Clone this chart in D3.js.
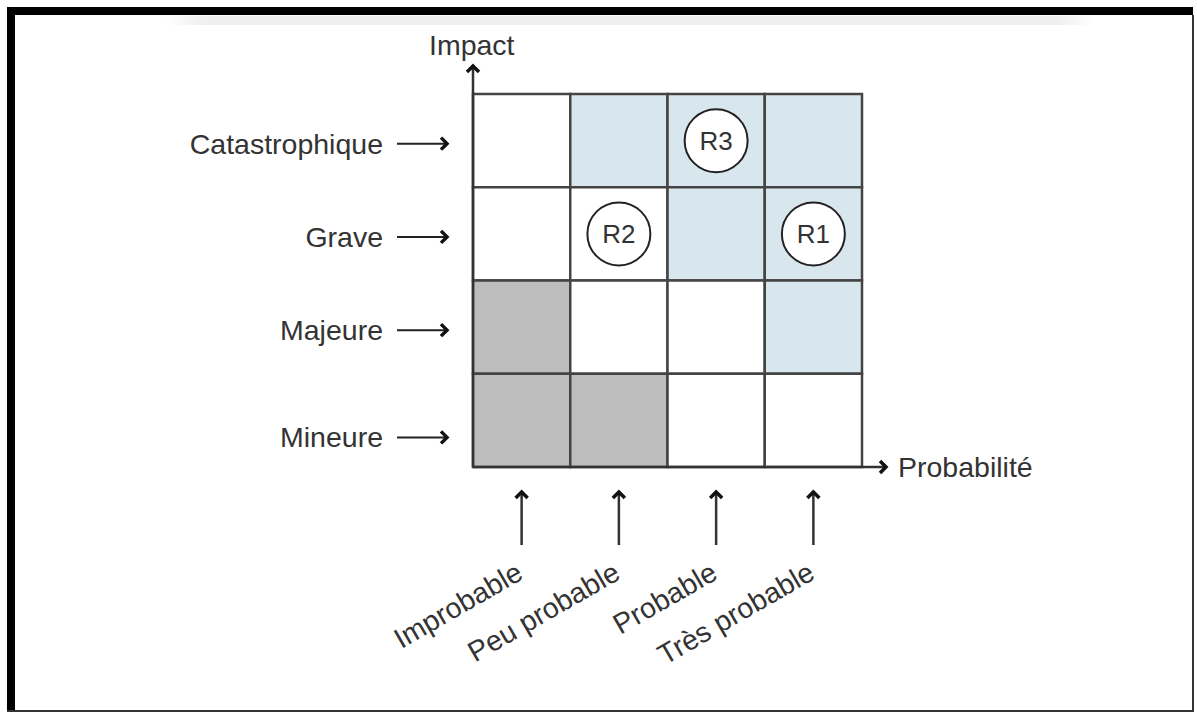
<!DOCTYPE html>
<html>
<head>
<meta charset="utf-8">
<script src="https://cdn.jsdelivr.net/npm/d3@7"></script>
<style>
  html, body { margin: 0; padding: 0; background: #fff; }
  svg text { font-family: "Liberation Sans", Arial, sans-serif; fill: #333; }
</style>
</head>
<body>
<div id="chart"></div>
<script>
// categories
var probabilities = ["Improbable", "Peu probable", "Probable", "Très probable"];
var impacts = ["Catastrophique", "Grave", "Majeure", "Mineure"];

// zone of each cell, row by row (impact), column by column (probabilité)
var zones = [
	["low", "high", "high", "high"],
	["low", "low", "high", "high"],
	["none", "low", "low", "high"],
	["none", "none", "low", "low"]
];

// risks placed on the matrix
var risks = [
	{ name: "R1", probability: "Très probable", impact: "Grave" },
	{ name: "R2", probability: "Peu probable", impact: "Grave" },
	{ name: "R3", probability: "Probable", impact: "Catastrophique" }
];

var zoneColor = { none: "#bdbdbd", low: "#ffffff", high: "#d8e6ee" };

var width = 1197, height = 713;
var grid = { left: 473, top: 94, right: 862, bottom: 467 };
var fontSize = 28.5;

var svg = d3.select("#chart").append("svg")
	.attr("width", width)
	.attr("height", height);

// faint shadow band near the top
var defs = svg.append("defs");
var grad = defs.append("linearGradient").attr("id", "shade").attr("x1", 0).attr("x2", 1);
grad.append("stop").attr("offset", "0").attr("stop-color", "#fff");
grad.append("stop").attr("offset", "0.04").attr("stop-color", "#ececec");
grad.append("stop").attr("offset", "0.96").attr("stop-color", "#ececec");
grad.append("stop").attr("offset", "1").attr("stop-color", "#fff");
svg.append("rect").attr("x", 165).attr("y", 16).attr("width", 930).attr("height", 9)
	.attr("fill", "url(#shade)").attr("opacity", 0.8);

// frame
svg.append("rect").attr("x", 7).attr("y", 7).attr("width", 1186).attr("height", 8).attr("fill", "#000");
svg.append("rect").attr("x", 7).attr("y", 7).attr("width", 8).attr("height", 705).attr("fill", "#000");
svg.append("rect").attr("x", 1192).attr("y", 15).attr("width", 2).attr("height", 697).attr("fill", "#333");
svg.append("rect").attr("x", 7).attr("y", 710).attr("width", 1187).attr("height", 2).attr("fill", "#333");

var x = d3.scaleBand().domain(probabilities).range([grid.left, grid.right]);
var y = d3.scaleBand().domain(impacts).range([grid.top, grid.bottom]);

var cells = [];
impacts.forEach(function(imp, i) {
	probabilities.forEach(function(p, j) {
		cells.push({ impact: imp, probability: p, zone: zones[i][j] });
	});
});

svg.append("g").selectAll("rect")
	.data(cells)
	.enter().append("rect")
	.attr("x", function(d) { return x(d.probability); })
	.attr("y", function(d) { return y(d.impact); })
	.attr("width", x.bandwidth())
	.attr("height", y.bandwidth())
	.attr("fill", function(d) { return zoneColor[d.zone]; })
	.attr("stroke", "#444")
	.attr("stroke-width", 2.5);

function chevron(g, px, py, dir) {
	// small arrow head pointing in dir ("up" or "right")
	var s = 6;
	var d = dir === "up"
		? "M" + (px - s) + "," + (py + s) + "L" + px + "," + py + "L" + (px + s) + "," + (py + s)
		: "M" + (px - s) + "," + (py - s) + "L" + px + "," + py + "L" + (px - s) + "," + (py + s);
	g.append("path").attr("d", d).attr("fill", "none").attr("stroke", "#111")
		.attr("stroke-width", 3.5).attr("stroke-linejoin", "miter");
}

var axes = svg.append("g");
axes.append("line").attr("x1", grid.left).attr("x2", grid.left).attr("y1", grid.bottom).attr("y2", 66)
	.attr("stroke", "#333").attr("stroke-width", 2.5);
chevron(axes, grid.left, 66, "up");
axes.append("line").attr("x1", grid.left).attr("x2", 886).attr("y1", grid.bottom).attr("y2", grid.bottom)
	.attr("stroke", "#333").attr("stroke-width", 2.5);
chevron(axes, 886, grid.bottom, "right");

svg.append("text").attr("x", 429).attr("y", 55).attr("font-size", fontSize).text("Impact");
svg.append("text").attr("x", 898).attr("y", 477).attr("font-size", fontSize).text("Probabilité");

// impact labels with arrows
var left = svg.append("g");
impacts.forEach(function(imp, i) {
	var cy = y(imp) + y.bandwidth() / 2 + (i === impacts.length - 1 ? 17 : 3);
	left.append("text").attr("x", 383).attr("y", cy + 10).attr("text-anchor", "end")
		.attr("font-size", fontSize).text(imp);
	left.append("line").attr("x1", 397).attr("x2", 446).attr("y1", cy).attr("y2", cy)
		.attr("stroke", "#222").attr("stroke-width", 2);
	chevron(left, 447, cy, "right");
});

// probability labels with arrows
var bottom = svg.append("g");
probabilities.forEach(function(p) {
	var cx = x(p) + x.bandwidth() / 2;
	bottom.append("line").attr("x1", cx).attr("x2", cx).attr("y1", 545).attr("y2", 493)
		.attr("stroke", "#333").attr("stroke-width", 2.5);
	chevron(bottom, cx, 492, "up");
	bottom.append("text")
		.attr("transform", "translate(" + (cx + 3) + ",578) rotate(-30)")
		.attr("text-anchor", "end").attr("font-size", fontSize).text(p);
});

// risks
var rg = svg.append("g").selectAll("g")
	.data(risks)
	.enter().append("g")
	.attr("transform", function(d) {
		return "translate(" + (x(d.probability) + x.bandwidth() / 2) + "," + (y(d.impact) + y.bandwidth() / 2) + ")";
	});
rg.append("circle").attr("r", 31.5).attr("fill", "#fff").attr("stroke", "#222").attr("stroke-width", 2);
rg.append("text").attr("text-anchor", "middle").attr("y", 9.5).attr("font-size", 26)
	.text(function(d) { return d.name; });
</script>
</body>
</html>
